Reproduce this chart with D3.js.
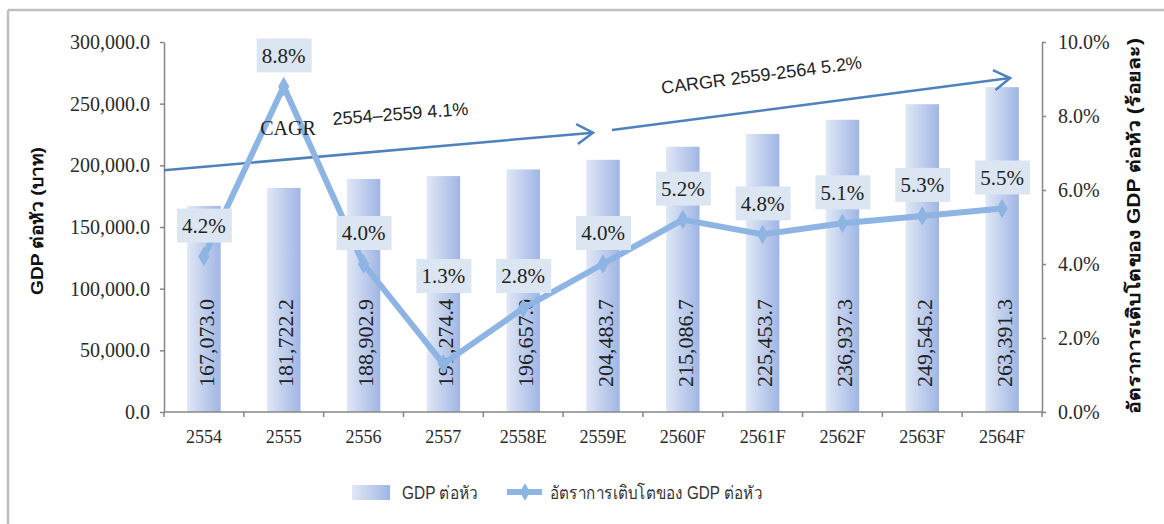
<!DOCTYPE html>
<html>
<head>
<meta charset="utf-8">
<script src="https://cdn.jsdelivr.net/npm/d3@7"></script>
<style>
  body { margin: 0; background: #fff; }
  .serif { font-family: "Liberation Serif", "Times New Roman", serif; }
  .sans { font-family: "Liberation Sans", Arial, "Noto Sans", sans-serif; }
</style>
</head>
<body>
<div id="chart"></div>
<script>
// data
var years = ["2554", "2555", "2556", "2557", "2558E", "2559E", "2560F", "2561F", "2562F", "2563F", "2564F"];
var gdpPerHead = [167073.0, 181722.2, 188902.9, 191274.4, 196657.0, 204483.7, 215086.7, 225453.7, 236937.3, 249545.2, 263391.3];
var growth = [4.2, 8.8, 4.0, 1.3, 2.8, 4.0, 5.2, 4.8, 5.1, 5.3, 5.5];
var leftTicks = [0, 50000, 100000, 150000, 200000, 250000, 300000];
var rightTicks = [0, 2, 4, 6, 8, 10];

var width = 1164, height = 524;

var svg = d3.select("#chart").append("svg")
    .attr("width", width)
    .attr("height", height);

var defs = svg.append("defs");
var grad = defs.append("linearGradient").attr("id", "barGrad")
    .attr("x1", "0%").attr("x2", "100%").attr("y1", "0%").attr("y2", "0%");
grad.append("stop").attr("offset", "0%").attr("stop-color", "#e1e8f6");
grad.append("stop").attr("offset", "100%").attr("stop-color", "#9fb5e4");

defs.append("marker")
    .attr("id", "chev")
    .attr("markerUnits", "userSpaceOnUse")
    .attr("viewBox", "-20 -12 24 24")
    .attr("markerWidth", 24).attr("markerHeight", 24)
    .attr("refX", 0).attr("refY", 0)
    .attr("orient", "auto")
    .append("path")
    .attr("d", "M-16,-10 L0,0 L-16,10")
    .attr("fill", "none")
    .attr("stroke", "#4f81bd")
    .attr("stroke-width", 2.5);

// frame
svg.append("line").attr("x1", 8).attr("x2", width).attr("y1", 10).attr("y2", 10)
    .attr("stroke", "#bfbfbf").attr("stroke-width", 2.5);
svg.append("line").attr("x1", 8).attr("x2", 8).attr("y1", 10).attr("y2", height)
    .attr("stroke", "#bfbfbf").attr("stroke-width", 2.5);

// scales
var x = d3.scaleBand().domain(years).range([164, 1042]).paddingInner(0.58).paddingOuter(0.29);
var xc = function(d){ return x(d) + x.bandwidth() / 2; };
var y = d3.scaleLinear().domain([0, 300000]).range([412, 42]);
var yR = d3.scaleLinear().domain([0, 10]).range([412, 42]);

// bars
svg.append("g").selectAll("rect")
    .data(gdpPerHead)
    .enter()
    .append("rect")
    .attr("x", function(d, i){ return x(years[i]); })
    .attr("y", function(d){ return y(d); })
    .attr("width", x.bandwidth())
    .attr("height", function(d){ return y(0) - y(d); })
    .attr("fill", "url(#barGrad)");

// bar values
svg.append("g").selectAll("text")
    .data(gdpPerHead)
    .enter()
    .append("text")
    .attr("class", "serif")
    .attr("transform", function(d, i){ return "translate(" + (xc(years[i]) + 2) + "," + (y(0) - 25) + ") rotate(-90)"; })
    .attr("dy", "0.35em")
    .attr("font-size", 22)
    .attr("fill", "#222")
    .text(d3.format(",.1f"));

// left axis
var leftAxis = svg.append("g")
    .attr("transform", "translate(164,0)")
    .call(d3.axisLeft(y).tickValues(leftTicks).tickFormat(d3.format(",.1f")).tickSize(4).tickSizeOuter(0).tickPadding(10));
leftAxis.selectAll("text").attr("class", "serif").attr("font-size", 20).attr("fill", "#2a2a2a");

// right axis
var rightAxis = svg.append("g")
    .attr("transform", "translate(1042,0)")
    .call(d3.axisRight(yR).tickValues(rightTicks).tickFormat(function(d){ return d.toFixed(1) + "%"; }).tickSize(4).tickSizeOuter(0).tickPadding(12));
rightAxis.selectAll("text").attr("class", "serif").attr("font-size", 20).attr("fill", "#2a2a2a");

[leftAxis, rightAxis].forEach(function(a){
    a.select(".domain").attr("stroke", "#868686").attr("stroke-width", 1.5);
    a.selectAll(".tick line").attr("stroke", "#868686").attr("stroke-width", 1.5);
});

// x axis (ticks between categories)
var xAxis = svg.append("g");
xAxis.append("line").attr("x1", 164).attr("x2", 1042).attr("y1", y(0)).attr("y2", y(0))
    .attr("stroke", "#868686").attr("stroke-width", 1.5);
xAxis.selectAll(".xt")
    .data(d3.range(years.length + 1))
    .enter()
    .append("line")
    .attr("class", "xt")
    .attr("x1", function(i){ return 164 + i * x.step(); })
    .attr("x2", function(i){ return 164 + i * x.step(); })
    .attr("y1", y(0)).attr("y2", y(0) + 5)
    .attr("stroke", "#868686").attr("stroke-width", 1.5);
xAxis.selectAll("text")
    .data(years)
    .enter()
    .append("text")
    .attr("class", "serif")
    .attr("x", function(d){ return xc(d); })
    .attr("y", 443)
    .attr("text-anchor", "middle")
    .attr("font-size", 18)
    .attr("fill", "#2a2a2a")
    .text(function(d){ return d; });

// CAGR arrows
svg.append("line")
    .attr("x1", 164).attr("y1", y(196000))
    .attr("x2", xc("2559E") - 10).attr("y2", y(226500))
    .attr("stroke", "#4f81bd").attr("stroke-width", 2.5)
    .attr("marker-end", "url(#chev)");
svg.append("line")
    .attr("x1", xc("2559E") + 9).attr("y1", y(228600))
    .attr("x2", xc("2564F") + 8).attr("y2", y(270800))
    .attr("stroke", "#4f81bd").attr("stroke-width", 2.5)
    .attr("marker-end", "url(#chev)");

// growth line
var line = d3.line()
    .x(function(d, i){ return xc(years[i]); })
    .y(function(d){ return yR(d); });

svg.append("path")
    .datum(growth)
    .attr("d", line)
    .attr("fill", "none")
    .attr("stroke", "#8db4e2")
    .attr("stroke-width", 6)
    .attr("stroke-linejoin", "round");

svg.append("g").selectAll("path")
    .data(growth)
    .enter()
    .append("path")
    .attr("d", d3.symbol().type(d3.symbolDiamond).size(110))
    .attr("transform", function(d, i){ return "translate(" + xc(years[i]) + "," + yR(d) + ")"; })
    .attr("fill", "#8db4e2");

// CAGR texts
svg.append("text")
    .attr("class", "serif")
    .attr("x", 288).attr("y", 135)
    .attr("text-anchor", "middle")
    .attr("font-size", 20)
    .attr("fill", "#222")
    .text("CAGR");
svg.append("text")
    .attr("class", "sans")
    .attr("transform", "translate(333,125) rotate(-4.3)")
    .attr("font-size", 18)
    .attr("fill", "#222")
    .text("2554\u20132559 4.1%");
svg.append("text")
    .attr("class", "sans")
    .attr("transform", "translate(662,94) rotate(-7.3)")
    .attr("font-size", 18)
    .attr("fill", "#222")
    .text("CARGR 2559-2564 5.2%");

// growth labels
var labelG = svg.append("g").selectAll("g")
    .data(growth)
    .enter()
    .append("g")
    .attr("transform", function(d, i){
        var ly = Math.min(yR(d) - 31, 276);
        return "translate(" + xc(years[i]) + "," + ly + ")";
    });
labelG.append("rect")
    .attr("x", -27).attr("y", -17)
    .attr("width", 55).attr("height", 34)
    .attr("fill", "#dce6f2");
labelG.append("text")
    .attr("class", "serif")
    .attr("text-anchor", "middle")
    .attr("dy", "0.35em")
    .attr("font-size", 21)
    .attr("fill", "#222")
    .text(function(d){ return d.toFixed(1) + "%"; });

// axis titles
svg.append("text")
    .attr("class", "sans")
    .attr("transform", "translate(43,221) rotate(-90)")
    .attr("text-anchor", "middle")
    .attr("font-size", 17)
    .attr("font-weight", "bold")
    .attr("fill", "#111")
    .attr("textLength", 148)
    .attr("lengthAdjust", "spacingAndGlyphs")
    .text("GDP ต่อหัว (บาท)");
svg.append("text")
    .attr("class", "sans")
    .attr("transform", "translate(1140,226) rotate(-90)")
    .attr("text-anchor", "middle")
    .attr("font-size", 18)
    .attr("font-weight", "bold")
    .attr("fill", "#111")
    .attr("textLength", 376)
    .attr("lengthAdjust", "spacingAndGlyphs")
    .text("อัตราการเติบโตของ GDP ต่อหัว (ร้อยละ)");

// legend
var legend = svg.append("g");
legend.append("rect")
    .attr("x", 352).attr("y", 485).attr("width", 38).attr("height", 15)
    .attr("fill", "url(#barGrad)");
legend.append("text")
    .attr("class", "sans")
    .attr("x", 402).attr("y", 499)
    .attr("font-size", 18)
    .attr("fill", "#333")
    .attr("textLength", 76)
    .attr("lengthAdjust", "spacingAndGlyphs")
    .text("GDP ต่อหัว");
legend.append("line")
    .attr("x1", 507).attr("x2", 542).attr("y1", 492).attr("y2", 492)
    .attr("stroke", "#8db4e2").attr("stroke-width", 6);
legend.append("path")
    .attr("d", d3.symbol().type(d3.symbolDiamond).size(90))
    .attr("transform", "translate(525,492)")
    .attr("fill", "#8db4e2");
legend.append("text")
    .attr("class", "sans")
    .attr("x", 550).attr("y", 499)
    .attr("font-size", 18)
    .attr("fill", "#333")
    .attr("textLength", 212)
    .attr("lengthAdjust", "spacingAndGlyphs")
    .text("อัตราการเติบโตของ GDP ต่อหัว");
</script>
</body>
</html>
